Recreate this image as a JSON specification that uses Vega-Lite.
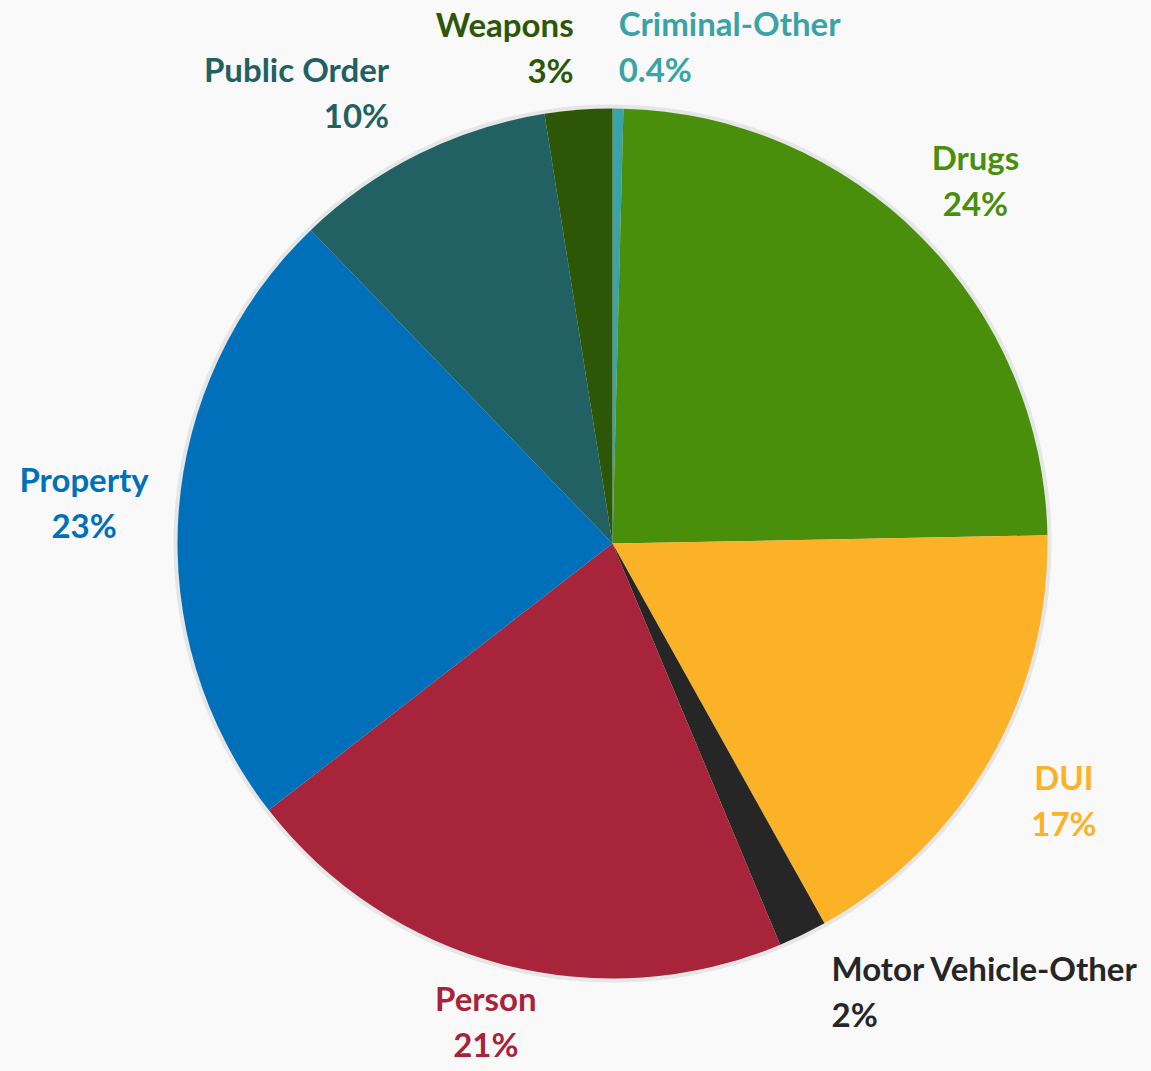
{
  "$schema": "https://vega.github.io/schema/vega-lite/v6.json",
  "width": 1077,
  "height": 1055,
  "autosize": "none",
  "padding": {"left": 74, "top": 16, "right": 0, "bottom": 0},
  "background": "#F9F9F9",
  "view": {"stroke": null},
  "data": {
    "values": [
      {"idx": 1, "cat": "Criminal-Other", "value": 0.4, "label": "Criminal-Other\n0.4%"},
      {"idx": 2, "cat": "Drugs", "value": 24.3, "label": "Drugs\n24%"},
      {"idx": 3, "cat": "DUI", "value": 17.2, "label": "DUI\n17%"},
      {"idx": 4, "cat": "Motor Vehicle-Other", "value": 1.8, "label": "Motor Vehicle-Other\n2%"},
      {"idx": 5, "cat": "Person", "value": 20.8, "label": "Person\n21%"},
      {"idx": 6, "cat": "Property", "value": 23.3, "label": "Property\n23%"},
      {"idx": 7, "cat": "Public Order", "value": 9.7, "label": "Public Order\n10%"},
      {"idx": 8, "cat": "Weapons", "value": 2.5, "label": "Weapons\n3%"}
    ]
  },
  "encoding": {
    "theta": {"field": "value", "type": "quantitative", "stack": true},
    "order": {"field": "idx", "type": "quantitative"}
  },
  "layer": [
    {
      "mark": {"type": "arc", "outerRadius": 439, "stroke": null, "color": "#E6E6E6"}
    },
    {
      "mark": {"type": "arc", "outerRadius": 435, "stroke": null},
      "encoding": {
        "color": {
          "field": "cat",
          "type": "nominal",
          "legend": null,
          "scale": {
            "domain": ["Criminal-Other", "Drugs", "DUI", "Motor Vehicle-Other", "Person", "Property", "Public Order", "Weapons"],
            "range": ["#3AA3A8", "#4A8F0B", "#FBB227", "#262626", "#A7243A", "#0070BA", "#216063", "#2D5607"]
          }
        }
      }
    },
    {
      "mark": {
        "type": "text",
        "radius": {"expr": "530*495/sqrt(pow(495*sin(PI*(datum.value_start+datum.value_end)/100),2)+pow(530*cos(PI*(datum.value_start+datum.value_end)/100),2))"},
        "font": "Lato",
        "fontWeight": "bold",
        "fontSize": 33,
        "lineBreak": "\n",
        "lineHeight": 46,
        "baseline": "middle",
        "dy": -23,
        "align": {"expr": "(datum.cat === 'Weapons' || datum.cat === 'Public Order') ? 'right' : ((datum.cat === 'Criminal-Other' || datum.cat === 'Motor Vehicle-Other') ? 'left' : 'center')"}
      },
      "encoding": {
        "text": {"field": "label", "type": "nominal"},
        "color": {"field": "cat", "type": "nominal", "legend": null, "scale": {
          "domain": ["Criminal-Other", "Drugs", "DUI", "Motor Vehicle-Other", "Person", "Property", "Public Order", "Weapons"],
          "range": ["#3AA3A8", "#4A8F0B", "#FBB227", "#262626", "#A7243A", "#0070BA", "#216063", "#2D5607"]
        }}
      }
    }
  ]
}
